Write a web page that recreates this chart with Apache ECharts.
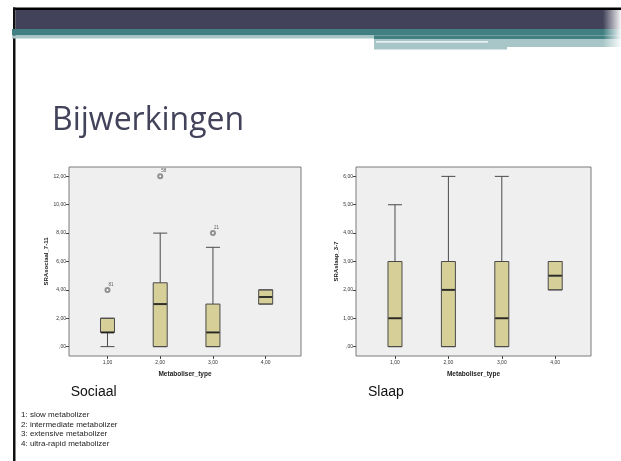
<!DOCTYPE html>
<html lang="nl">
<head>
  <meta charset="UTF-8" />
  <title>Bijwerkingen</title>
  <script src="https://cdn.jsdelivr.net/npm/echarts@6.0.0/dist/echarts.min.js"></script>
  <style>
    html, body { margin: 0; padding: 0; background: #fff; }
    #chart { width: 621px; height: 461px; }
  </style>
</head>
<body>
  <div id="chart"></div>
  <script>
    // categorieen (Metaboliser_type)
    var categories = [1, 2, 3, 4];
    var legendLines = [
      '1: slow metabolizer',
      '2: intermediate metabolizer',
      '3: extensive metabolizer',
      '4: ultra-rapid metabolizer'
    ];

    // Sociaal: [min, Q1, mediaan, Q3, max] per type
    var sociaalBoxes = [
      [0, 1, 1, 2, 2],
      [0, 0, 3, 4.5, 8],
      [0, 0, 1, 3, 7],
      [3, 3, 3.5, 4, 4]
    ];
    // uitschieters: [type, waarde, case-nummer]
    var sociaalOutliers = [[1, 4, '81'], [2, 12, '58'], [3, 8, '21']];
    var sociaalTicks = [0, 2, 4, 6, 8, 10, 12];

    // Slaap
    var slaapBoxes = [
      [0, 0, 1, 3, 5],
      [0, 0, 2, 3, 6],
      [0, 0, 1, 3, 6],
      [2, 2, 2.5, 3, 3]
    ];
    var slaapOutliers = [];
    var slaapTicks = [0, 1, 2, 3, 4, 5, 6];

    var boxFill = '#d6cf98';
    var slate = '#42435a';
    var teal = '#417f82';
    var pattern = '#a8c6c7';

    function komma(v) {
      var s = v.toFixed(2).replace('.', ',');
      return s.charAt(0) === '0' ? s.slice(1) : s;
    }

    function xAxisFor(gi) {
      return {
        type: 'value', gridIndex: gi, min: 0.27, max: 4.67,
        name: 'Metaboliser_type', nameLocation: 'middle', nameGap: 15,
        nameTextStyle: { fontSize: 6.5, fontWeight: 'bold', color: '#222', fontFamily: 'Liberation Sans' },
        axisLine: { show: false, onZero: false },
        axisTick: { show: true, length: 3, lineStyle: { color: '#444' }, customValues: categories },
        axisLabel: { fontSize: 5, color: '#333', margin: 4, customValues: categories, formatter: komma },
        splitLine: { show: false }
      };
    }

    function yAxisFor(gi, name, gap, min, max, ticks) {
      return {
        type: 'value', gridIndex: gi, min: min, max: max,
        name: name, nameLocation: 'middle', nameGap: gap, nameRotate: 90,
        nameTextStyle: { fontSize: 6, fontWeight: 'bold', color: '#222', fontFamily: 'Liberation Sans' },
        axisLine: { show: false, onZero: false },
        axisTick: { show: true, length: 3, lineStyle: { color: '#444' }, customValues: ticks },
        axisLabel: { fontSize: 5, color: '#333', margin: 3, customValues: ticks, formatter: komma },
        splitLine: { show: false }
      };
    }

    function seriesFor(gi, boxes, outliers) {
      var boxData = boxes.map(function (b, i) { return [categories[i]].concat(b); });
      var medData = boxes.map(function (b, i) { return [categories[i], b[2]]; });
      return [
        {
          type: 'boxplot', xAxisIndex: gi, yAxisIndex: gi,
          data: boxData, boxWidth: [14, 14],
          itemStyle: { color: boxFill, borderColor: '#4a4a4a', borderWidth: 1 }
        },
        {
          type: 'scatter', xAxisIndex: gi, yAxisIndex: gi,
          data: medData, symbol: 'rect', symbolSize: [13, 2],
          itemStyle: { color: '#1a1a1a' }, z: 5
        },
        {
          type: 'scatter', xAxisIndex: gi, yAxisIndex: gi,
          data: outliers, symbol: 'emptyCircle', symbolSize: 4,
          itemStyle: { color: '#777', borderWidth: 0.6 },
          label: {
            show: true, position: [4, -5], fontSize: 4.5, color: '#333',
            formatter: function (p) { return p.value[2]; }
          }
        }
      ];
    }

    var graphics = [
      // dia-decoratie bovenaan
      { type: 'rect', shape: { x: 13, y: 7.5, width: 608, height: 2.5 }, style: { fill: '#000' } },
      { type: 'rect', shape: { x: 13, y: 7.5, width: 2.5, height: 454 }, style: { fill: '#111' } },
      { type: 'rect', shape: { x: 15.5, y: 10, width: 606, height: 19 }, style: { fill: slate } },
      { type: 'rect', shape: { x: 12, y: 29, width: 609, height: 6.5 }, style: { fill: teal } },
      { type: 'rect', shape: { x: 12, y: 35.5, width: 362, height: 3 }, style: { fill: pattern } },
      { type: 'rect', shape: { x: 374, y: 35.5, width: 247, height: 3.5 }, style: { fill: teal } },
      { type: 'rect', shape: { x: 374, y: 39, width: 247, height: 8 }, style: { fill: pattern } },
      { type: 'rect', shape: { x: 376, y: 41.3, width: 112, height: 1.2 }, style: { fill: '#fff' } },
      { type: 'rect', shape: { x: 374, y: 47, width: 133, height: 2.5 }, style: { fill: pattern } },
      {
        type: 'rect', shape: { x: 603, y: 10, width: 18, height: 40 },
        style: {
          fill: new echarts.graphic.LinearGradient(0, 0, 1, 0, [
            { offset: 0, color: 'rgba(255,255,255,0)' },
            { offset: 1, color: 'rgba(255,255,255,0.95)' }
          ])
        }
      },
      // teksten
      {
        type: 'text', x: 52, y: 121,
        style: { text: 'Bijwerkingen', font: '32px "Open Sans"', fill: slate, verticalAlign: 'middle' }
      },
      {
        type: 'text', x: 70.7, y: 392,
        style: { text: 'Sociaal', font: '14px "Liberation Sans"', fill: '#111', verticalAlign: 'middle' }
      },
      {
        type: 'text', x: 368, y: 392,
        style: { text: 'Slaap', font: '14px "Liberation Sans"', fill: '#111', verticalAlign: 'middle' }
      }
    ];
    legendLines.forEach(function (t, i) {
      graphics.push({
        type: 'text', x: 21, y: 415 + i * 9.5,
        style: { text: t, font: '8px "Liberation Sans"', fill: '#222', verticalAlign: 'middle' }
      });
    });

    var myChart = echarts.init(document.getElementById('chart'));
    var option = {
      animation: false,
      backgroundColor: '#fff',
      grid: [
        { left: 69, top: 167, width: 232, height: 189, show: true, backgroundColor: '#efefef', borderColor: '#7a7a7a', borderWidth: 1 },
        { left: 356, top: 167, width: 235, height: 189, show: true, backgroundColor: '#efefef', borderColor: '#7a7a7a', borderWidth: 1 }
      ],
      xAxis: [xAxisFor(0), xAxisFor(1)],
      yAxis: [
        yAxisFor(0, 'SRAsociaal_7-11', 20, -0.66, 12.66, sociaalTicks),
        yAxisFor(1, 'SRAslaap_3-7', 17, -0.33, 6.33, slaapTicks)
      ],
      series: seriesFor(0, sociaalBoxes, sociaalOutliers).concat(seriesFor(1, slaapBoxes, slaapOutliers)),
      graphic: graphics
    };
    myChart.setOption(option);
  </script>
</body>
</html>
